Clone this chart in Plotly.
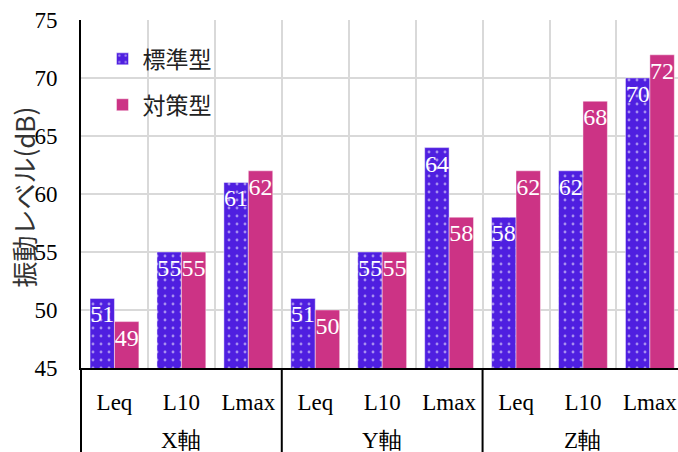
import plotly.graph_objects as go

# Measurement axes and level types
groups = ["X軸", "Y軸", "Z軸"]
axes = ["X軸", "X軸", "X軸", "Y軸", "Y軸", "Y軸", "Z軸", "Z軸", "Z軸"]
levels = ["Leq", "L10", "Lmax", "Leq", "L10", "Lmax", "Leq", "L10", "Lmax"]

# Vibration levels (dB)
standard = [51, 55, 61, 51, 55, 64, 58, 62, 70]
countermeasure = [49, 55, 62, 50, 55, 58, 62, 68, 72]

BLUE = "#4F1FE0"
PINK = "#CC3385"
SERIF = "Liberation Serif"
CJK = "Noto Sans CJK JP"

# one category per (axis, level) pair; the level name is shown as tick text
cats = [f"{a} {l}" for a, l in zip(axes, levels)]

fig = go.Figure()
fig.add_trace(go.Bar(
    name="標準型", x=cats, y=standard,
    text=standard, textposition="inside", insidetextanchor="end",
    textangle=0, constraintext="none",
    textfont=dict(family=SERIF, size=24, color="white"),
    marker=dict(color=BLUE, line=dict(color="rgba(255,255,255,0.45)", width=1),
                pattern=dict(shape=".", fgcolor="white", bgcolor=BLUE,
                             size=8, solidity=0.1)),
    legendgroup="a",
))
fig.add_trace(go.Bar(
    name="対策型", x=cats, y=countermeasure,
    text=countermeasure, textposition="inside", insidetextanchor="end",
    textangle=0, constraintext="none",
    textfont=dict(family=SERIF, size=24, color="white"),
    marker=dict(color=PINK, line=dict(color="rgba(255,255,255,0.45)", width=1)),
    legendgroup="b",
))

# group labels centred under each set of three levels
annotations = []
for g in groups:
    members = [c for c, a in zip(cats, axes) if a == g]
    annotations.append(dict(text=g, xref="x", yref="paper",
                            x=members[len(members) // 2], y=-0.207,
                            xanchor="center", yanchor="middle", showarrow=False,
                            font=dict(family=SERIF, size=23, color="black")))
annotations.append(dict(text="振動レベル(dB)", textangle=-90, xref="paper", yref="paper",
                        x=-0.097, y=0.49, xanchor="center", yanchor="middle",
                        showarrow=False, font=dict(family=CJK, size=26, color="#333")))

# dividers between axis groups below the plot area
shapes = [dict(type="line", xref="paper", yref="paper", x0=0, x1=0, y0=-0.2414, y1=0,
               line=dict(color="black", width=2))]
start = 0
for g in groups[:-1]:
    start += axes.count(g)
    shapes.append(dict(type="line", xref="x", yref="paper",
                       x0=start - 0.5, x1=start - 0.5, y0=-0.2414, y1=0,
                       line=dict(color="black", width=2)))

fig.update_layout(
    width=678, height=452,
    margin=dict(l=81, r=0, t=20, b=84),
    paper_bgcolor="white", plot_bgcolor="white",
    barmode="group", bargap=0.27, bargroupgap=0,
    font=dict(family=SERIF, size=23, color="black"),
    showlegend=True,
    legend=dict(x=0.036, y=0.95, xanchor="left", yanchor="top",
                bgcolor="rgba(0,0,0,0)", font=dict(family=CJK, size=23, color="#222"),
                traceorder="grouped", tracegroupgap=13),
    xaxis=dict(type="category", range=[-0.5, 8.42],
               tickvals=cats, ticktext=levels, tickson="boundaries", ticks="",
               ticklabelstandoff=12,
               showline=True, linecolor="black", linewidth=2,
               showgrid=True, gridcolor="#d9d9d9", gridwidth=2,
               tickfont=dict(family=SERIF, size=23, color="black")),
    yaxis=dict(range=[45, 75], dtick=5, showline=True, linecolor="black", linewidth=2,
               showgrid=True, gridcolor="#d9d9d9", gridwidth=2, zeroline=False,
               ticks="", ticklabelstandoff=17,
               tickfont=dict(family=SERIF, size=23, color="black")),
    annotations=annotations,
    shapes=shapes,
)

fig.write_html("out.html")
